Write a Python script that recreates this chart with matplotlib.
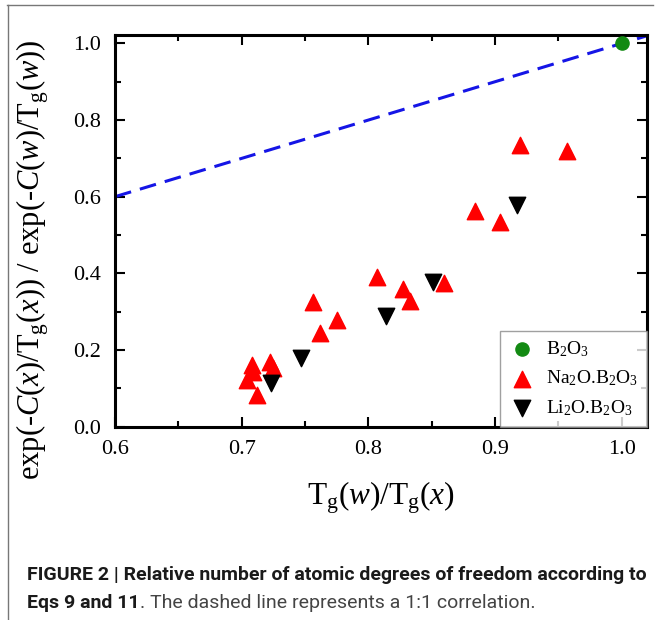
import matplotlib
matplotlib.use("Agg")
import matplotlib.pyplot as plt
from matplotlib.lines import Line2D
from matplotlib.ticker import MultipleLocator

plt.rcParams['font.family'] = 'Liberation Serif'
plt.rcParams['mathtext.fontset'] = 'custom'
plt.rcParams['mathtext.rm'] = 'Liberation Serif'
plt.rcParams['mathtext.it'] = 'Liberation Serif:italic'

# dados
b2o3_x = [1.0]
b2o3_y = [1.0]

na_x = [0.704, 0.708, 0.709, 0.712, 0.722, 0.725, 0.756, 0.762, 0.775, 0.807,
        0.827, 0.833, 0.860, 0.884, 0.904, 0.920, 0.957]
na_y = [0.122, 0.161, 0.143, 0.082, 0.169, 0.153, 0.326, 0.243, 0.278, 0.390,
        0.358, 0.328, 0.375, 0.562, 0.535, 0.735, 0.720]

li_x = [0.723, 0.747, 0.814, 0.851, 0.917]
li_y = [0.113, 0.178, 0.288, 0.378, 0.578]

linha_x = [0.6, 1.02]

fig = plt.figure(figsize=(6.58, 6.20), dpi=100)
ax = fig.add_axes([115/658, 1 - 426.6/620, 532/658, 391.6/620])

# linha 1:1
ax.plot(linha_x, linha_x, color='#1515e6', linestyle=(0, (5.5, 3)), linewidth=2.2, zorder=2)

ax.scatter(b2o3_x, b2o3_y, marker='o', s=90, color='#138a13', label=r'B$_2$O$_3$', zorder=3)
ax.scatter(na_x, na_y, marker='^', s=140, color='#ff0000', label=r'Na$_2$O.B$_2$O$_3$', zorder=3)
ax.scatter(li_x, li_y, marker='v', s=140, color='black', label=r'Li$_2$O.B$_2$O$_3$', zorder=3)

ax.set_xlim(0.6, 1.02)
ax.set_ylim(0.0, 1.022)
ax.xaxis.set_major_locator(MultipleLocator(0.1))
ax.xaxis.set_minor_locator(MultipleLocator(0.05))
ax.yaxis.set_major_locator(MultipleLocator(0.2))
ax.yaxis.set_minor_locator(MultipleLocator(0.1))
ax.tick_params(which='both', direction='in', top=True, right=True, width=1.5,
               labelsize=16, pad=10)
ax.tick_params(which='major', length=7)
ax.tick_params(which='minor', length=4)
for s in ax.spines.values():
    s.set_linewidth(2.2)

ax.set_xlabel(r'T$_\mathrm{g}$($\it{w}$)/T$_\mathrm{g}$($\it{x}$)', fontsize=22.5, labelpad=14)
ax.set_ylabel(r'exp(-$\it{C}$($\it{x}$)/T$_\mathrm{g}$($\it{x}$)) / exp(-$\it{C}$($\it{w}$)/T$_\mathrm{g}$($\it{w}$))',
              fontsize=22)
ax.yaxis.set_label_coords(-0.12, 0.425)

leg = ax.legend(loc='lower right', fontsize=14, frameon=True, fancybox=False,
                borderaxespad=0, handlelength=1.4, handletextpad=0.55,
                labelspacing=0.5, borderpad=0.45, scatterpoints=1)
leg.get_frame().set_edgecolor('#888888')
leg.get_frame().set_linewidth(1.0)

# moldura
fig.add_artist(Line2D([7/658, 653/658], [1 - 5/620, 1 - 5/620], color='#777777', linewidth=1))
fig.add_artist(Line2D([8/658, 8/658], [0, 1 - 5/620], color='#777777', linewidth=1))

# legenda da figura
fig.text(27/658, 1 - 580/620, 'FIGURE 2 | Relative number of atomic degrees of freedom according to',
         fontsize=14, fontweight='bold', family='Roboto', color='#1a1a1a', va='baseline')
t2 = fig.text(27/658, 1 - 612/620, 'Eqs 9 and 11', fontsize=14, fontweight='bold',
              family='Roboto', color='#1a1a1a', va='bottom')
ax.annotate('. The dashed line represents a 1:1 correlation.', xy=(1, 0), xycoords=t2,
            va='bottom', ha='left', fontsize=14, family='Roboto', color='#444444',
            annotation_clip=False)

fig.savefig('out.png', dpi=100)
